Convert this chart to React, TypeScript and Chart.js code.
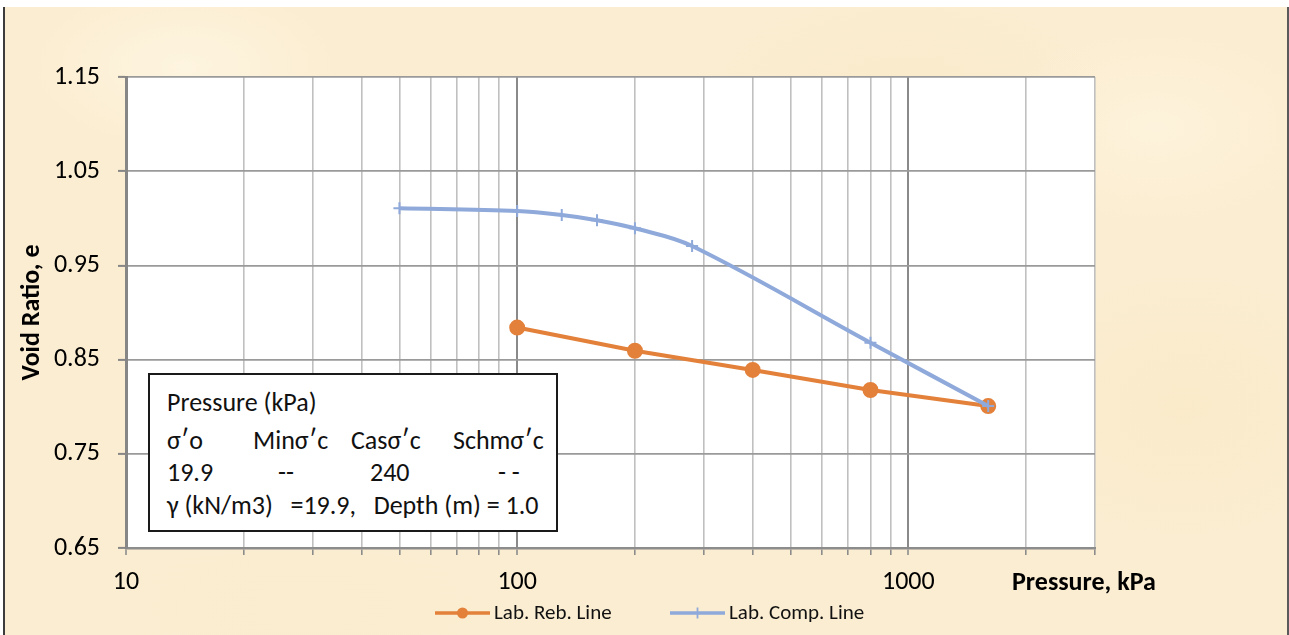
import React, { useEffect, useRef } from "react";
import { Chart, registerables } from "chart.js";

Chart.register(...registerables);

// ---------- data ----------
const REB_PRESSURE = [100, 200, 400, 800, 1600];
const REB_VOID = [0.884, 0.8594, 0.839, 0.8177, 0.8007];

const COMP_PRESSURE = [50, 100, 130, 160, 200, 280, 800, 1600];
const COMP_VOID = [1.0106, 1.0077, 1.0035, 0.998, 0.9894, 0.9706, 0.868, 0.8007];

const SERIES_NAMES = ["Lab. Reb. Line", "Lab. Comp. Line"];

const X_GRID = [10, 20, 30, 40, 50, 60, 70, 80, 90, 100, 200, 300, 400, 500, 600, 700, 800, 900, 1000, 2000, 3000];
const X_LABELS = [10, 100, 1000];
const Y_TICKS = [0.65, 0.75, 0.85, 0.95, 1.05, 1.15];

const X_TITLE = "Pressure, kPa";
const Y_TITLE = "Void Ratio, e";

const BOX_LINES = [
  ["Pressure (kPa)"],
  ["σ′o", "Minσ′c", "Casσ′c", "Schmσ′c"],
  ["19.9", "--", "240", "- -"],
  ["γ (kN/m3)   =19.9,   Depth (m) = 1.0"],
];

const FONT = "Carlito, Calibri, Lato, 'Open Sans', sans-serif";
const ORANGE = "#E3803A";
const BLUE = "#8EA9DA";

const plotBgPlugin = {
  id: "plotBg",
  beforeDraw(chart: any) {
    const { ctx, chartArea: a } = chart;
    ctx.save();
    ctx.fillStyle = "#ffffff";
    ctx.fillRect(a.left, a.top, a.right - a.left, a.bottom - a.top);
    ctx.restore();
  },
};

const legendPlugin = {
  id: "excelLegend",
  afterDraw(chart: any) {
    const ctx = chart.ctx;
    const y = 613;
    const starts = [435, 670];
    ctx.save();
    chart.data.datasets.forEach((ds: any, i: number) => {
      const x0 = starts[i];
      ctx.strokeStyle = ds.borderColor;
      ctx.lineWidth = 3.5;
      ctx.beginPath();
      ctx.moveTo(x0, y);
      ctx.lineTo(x0 + 55, y);
      ctx.stroke();
      const cx = x0 + 27.5;
      if (ds.pointStyle === "circle") {
        ctx.fillStyle = ds.pointBackgroundColor;
        ctx.beginPath();
        ctx.arc(cx, y, 5.5, 0, Math.PI * 2);
        ctx.fill();
      } else {
        ctx.lineWidth = 1.8;
        ctx.beginPath();
        ctx.moveTo(cx, y - 5.5);
        ctx.lineTo(cx, y + 5.5);
        ctx.moveTo(cx - 5.5, y);
        ctx.lineTo(cx + 5.5, y);
        ctx.stroke();
      }
      ctx.fillStyle = "#111";
      ctx.font = `21px ${FONT}`;
      ctx.textBaseline = "middle";
      ctx.textAlign = "left";
      ctx.fillText(ds.label, x0 + 59, y + 1);
    });
    ctx.restore();
  },
};

export default function App() {
  const ref = useRef<HTMLCanvasElement | null>(null);

  useEffect(() => {
    if (!ref.current) return;
    const reb = REB_PRESSURE.map((p, i) => ({ x: p, y: REB_VOID[i] }));
    const comp = COMP_PRESSURE.map((p, i) => ({ x: p, y: COMP_VOID[i] }));
    const chart = new Chart(ref.current, {
      type: "line",
      data: {
        datasets: [
          {
            label: SERIES_NAMES[0],
            data: reb,
            borderColor: ORANGE,
            backgroundColor: ORANGE,
            pointBackgroundColor: ORANGE,
            pointBorderColor: ORANGE,
            pointStyle: "circle",
            pointRadius: 6,
            borderWidth: 4,
            tension: 0,
            order: 1,
          },
          {
            label: SERIES_NAMES[1],
            data: comp,
            borderColor: BLUE,
            backgroundColor: BLUE,
            pointBackgroundColor: BLUE,
            pointBorderColor: BLUE,
            pointStyle: "cross",
            pointRadius: 6,
            pointBorderWidth: 2,
            borderWidth: 4,
            tension: 0.35,
            order: 0,
          },
        ],
      },
      options: {
        responsive: false,
        animation: false,
        events: [],
        layout: { padding: { left: 0, top: 77, right: 194, bottom: 0 } },
        plugins: {
          legend: { display: false },
          tooltip: { enabled: false },
        },
        scales: {
          x: {
            type: "logarithmic",
            min: 10,
            max: 3000,
            afterBuildTicks: (s: any) => {
              s.ticks = X_GRID.map((v) => ({ value: v }));
            },
            afterFit: (s: any) => {
              s.height = 87;
            },
            ticks: {
              autoSkip: false,
              maxRotation: 0,
              minRotation: 0,
              padding: 12,
              color: "#000",
              font: { family: FONT, size: 26 },
              callback: (v: any) => (X_LABELS.includes(Number(v)) ? String(v) : ""),
            },
            grid: {
              color: (c: any) => (c.tick && X_LABELS.includes(c.tick.value) ? "#8a8a8a" : "#c0c0c0"),
              lineWidth: (c: any) => (c.tick && X_LABELS.includes(c.tick.value) ? 2 : 1.6),
              tickLength: 7,
              tickColor: "#8c8c8c",
              tickWidth: 1.6,
            },
            border: { color: "#8c8c8c", width: 2.5 },
          },
          y: {
            type: "linear",
            min: Y_TICKS[0],
            max: Y_TICKS[Y_TICKS.length - 1],
            afterBuildTicks: (s: any) => {
              s.ticks = Y_TICKS.map((v) => ({ value: v }));
            },
            afterFit: (s: any) => {
              s.width = 126;
            },
            ticks: {
              padding: 18,
              color: "#000",
              font: { family: FONT, size: 26 },
              callback: (v: any) => Number(v).toFixed(2),
            },
            grid: {
              color: "#9a9a9a",
              lineWidth: 1.8,
              tickLength: 8,
              tickColor: "#868686",
              tickWidth: 2,
            },
            border: { color: "#868686", width: 3 },
            title: {
              display: true,
              text: Y_TITLE,
              color: "#000",
              font: { family: FONT, size: 26, weight: "bold" },
              padding: { top: 17, bottom: 0 },
            },
          },
        },
      },
      plugins: [plotBgPlugin, legendPlugin],
    } as any);
    return () => chart.destroy();
  }, []);

  const lineCenters = [402, 440, 472, 505];
  const colX = [
    [167],
    [167, 253, 351, 453],
    [167, 278, 370, 498],
    [167],
  ];

  return (
    <div
      style={{
        position: "fixed",
        left: 0,
        top: 0,
        width: 1289,
        height: 635,
        background: "#ffffff",
        overflow: "hidden",
      }}
    >
      <div
        style={{
          position: "absolute",
          left: 3,
          top: 7,
          width: 1282,
          height: 640,
          borderLeft: "2px solid #3c3c3c",
          borderRight: "2px solid #5a5a5a",
          background:
            "radial-gradient(ellipse 220px 120px at 180px 60px, rgba(255,248,230,0.7), rgba(255,248,230,0) 70%)," +
            "radial-gradient(ellipse 300px 160px at 900px 90px, rgba(248,232,198,0.5), rgba(248,232,198,0) 70%)," +
            "radial-gradient(ellipse 260px 200px at 1180px 400px, rgba(249,232,196,0.5), rgba(249,232,196,0) 70%)," +
            "radial-gradient(ellipse 300px 120px at 300px 600px, rgba(250,236,204,0.5), rgba(250,236,204,0) 70%)," +
            "radial-gradient(ellipse 240px 140px at 1150px 120px, rgba(255,246,226,0.6), rgba(255,246,226,0) 70%)," +
            "#FBEDD1",
        }}
      />
      <canvas
        ref={ref}
        width={1289}
        height={635}
        style={{ position: "absolute", left: 0, top: 0, width: 1289, height: 635 }}
      />
      <div
        style={{
          position: "absolute",
          left: 1012,
          top: 581 - 16,
          height: 32,
          lineHeight: "32px",
          fontFamily: FONT,
          fontWeight: "bold",
          fontSize: 26,
          color: "#000",
          whiteSpace: "pre",
        }}
      >
        {X_TITLE}
      </div>
      <div
        style={{
          position: "absolute",
          left: 148,
          top: 373,
          width: 410,
          height: 159,
          boxSizing: "border-box",
          border: "2px solid #1a1a1a",
          background: "#ffffff",
        }}
      />
      {BOX_LINES.map((line, li) =>
        line.map((txt, ci) => (
          <div
            key={`${li}-${ci}`}
            style={{
              position: "absolute",
              left: colX[li][ci],
              top: lineCenters[li] - 16,
              height: 32,
              lineHeight: "32px",
              fontFamily: FONT,
              fontSize: 26,
              color: "#111",
              whiteSpace: "pre",
            }}
          >
            {txt}
          </div>
        ))
      )}
    </div>
  );
}
